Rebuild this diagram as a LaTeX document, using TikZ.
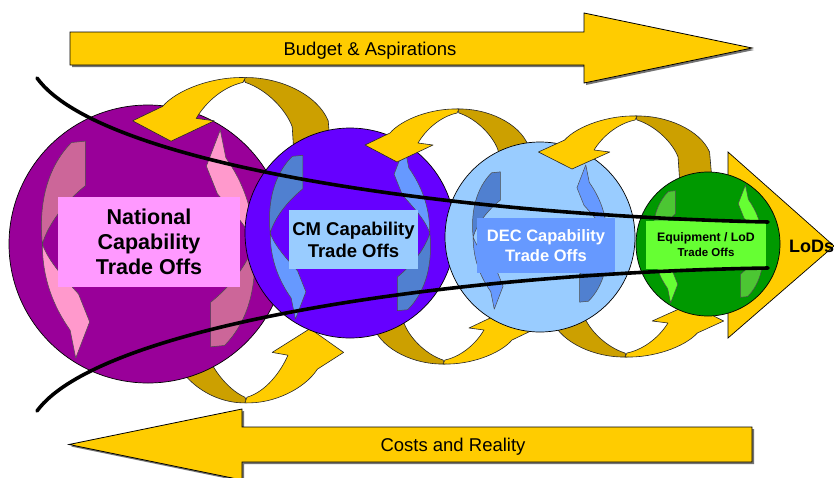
\documentclass[tikz,border=0pt]{standalone}
\usepackage{fontspec}
\setmainfont{Liberation Sans}

\definecolor{goldface}{HTML}{FFCC00}
\definecolor{goldback}{HTML}{CCA000}
\definecolor{natfill}{HTML}{990099}
\definecolor{natdark}{HTML}{CC6699}
\definecolor{natlight}{HTML}{FF99CC}
\definecolor{natbox}{HTML}{FF99FF}
\definecolor{cmfill}{HTML}{6600FF}
\definecolor{bluedark}{HTML}{5080D0}
\definecolor{bluelight}{HTML}{6699FF}
\definecolor{paleblue}{HTML}{99CCFF}
\definecolor{eqfill}{HTML}{009900}
\definecolor{eqdark}{HTML}{4CC633}
\definecolor{eqlight}{HTML}{66FF33}

% one twisted ribbon loop, cusp at the origin (y grows downwards)
\newcommand\ribbonBack{%
  \path[ribbonback] (0,-2) .. controls (30,-3) and (62,12) .. (71,34)
    -- (74,70) -- (43,70) -- (41,39)
    .. controls (36,25) and (20,8) .. (2,2) -- cycle;}
\newcommand\ribbonFront{%
  \path[ribbonfront] (2,-2) .. controls (-25,-3) and (-55,8) .. (-67,22)
    -- (-92,34) -- (-60,51) -- (-24,34) -- (-39,32)
    .. controls (-32,20) and (-18,6) .. (0,2) -- cycle;}

% one recycling arrow inside a ball, in units of the ball radius
\newcommand\swirlside[2]{%
  \path[swirl, fill=#1] (-0.55,-0.73) -- (-0.45,-0.74) -- (-0.45,-0.42)
    .. controls (-0.60,-0.30) and (-0.72,-0.14) .. (-0.76,0)
    .. controls (-0.79,-0.30) and (-0.72,-0.56) .. (-0.55,-0.73) -- cycle;
  \path[swirl, fill=#2] (-0.76,0)
    .. controls (-0.76,0.25) and (-0.68,0.45) .. (-0.56,0.62)
    -- (-0.52,0.82) -- (-0.42,0.56) -- (-0.50,0.36)
    .. controls (-0.60,0.25) and (-0.72,0.12) .. (-0.76,0) -- cycle;}
\newcommand\swirlset[2]{%
  \swirlside{#1}{#2}%
  \begin{scope}[rotate=180]\swirlside{#1}{#2}\end{scope}}

\begin{document}
\begin{tikzpicture}[x=1pt, y=-1pt,
  bigarrow/.style={fill=goldface, draw=black, line width=0.8pt, line join=miter},
  bigshade/.style={fill=black!55},
  ribbonfront/.style={fill=goldface, draw=black!85, line width=0.6pt, line join=round},
  ribbonback/.style={fill=goldback, draw=black!85, line width=0.6pt, line join=round},
  ball/.style={circle, draw=black, line width=0.7pt, inner sep=0pt},
  swirl/.style={draw=black!70, line width=0.5pt, line join=round},
  tradebox/.style={inner sep=0pt, align=center},
  thread/.style={draw=black, line width=3.6pt, line cap=round, line join=round},
  banner/.style={font=\fontsize{18.5}{22}\selectfont, anchor=base, inner sep=0pt}
]
\fill[white] (0,0) rectangle (834,477);
\useasboundingbox (0,0) rectangle (834,477);

% budget arrow (top) and cost arrow (bottom)
\path[bigshade, shift={(2,2)}] (70,32) -- (584,32) -- (584,13) -- (752,48)
  -- (584,83) -- (584,65) -- (70,65) -- cycle;
\path[bigarrow] (70,32) -- (584,32) -- (584,13) -- (752,48)
  -- (584,83) -- (584,65) -- (70,65) -- cycle;
\node[banner] (budget) at (370,55.5) {Budget \& Aspirations};

\path[bigshade, shift={(2,2)}] (752,427) -- (242,427) -- (242,409) -- (69,444.5)
  -- (242,480) -- (242,462) -- (752,462) -- cycle;
\path[bigarrow] (752,427) -- (242,427) -- (242,409) -- (69,444.5)
  -- (242,480) -- (242,462) -- (752,462) -- cycle;
\node[banner] (costs) at (453,451) {Costs and Reality};

% far halves of the upper loops
\begin{scope}[shift={(243,80)}, scale=1.2]\ribbonBack\end{scope}
\begin{scope}[shift={(457,111)}]\ribbonBack\end{scope}
\begin{scope}[shift={(635,118)}, xscale=1.05]\ribbonBack\end{scope}

% lower loops, turned upside down
\begin{scope}[shift={(247,400)}, xscale=-1.05, yscale=-1.4]\ribbonBack\ribbonFront\end{scope}
\begin{scope}[shift={(445,362)}, xscale=-1, yscale=-1]\ribbonBack\ribbonFront\end{scope}
\begin{scope}[shift={(627,355)}, xscale=-1.05, yscale=-1]\ribbonBack\ribbonFront\end{scope}

% outcome arrow
\path[bigarrow, line width=0.7pt] (728,152) -- (834,246) -- (728,338) -- cycle;

% national level
\node[ball, fill=natfill, minimum size=278pt] (natball) at (148,244) {};
\begin{scope}[shift={(natball.center)}, scale=139]\swirlset{natdark}{natlight}\end{scope}
\node[tradebox, fill=natbox, minimum width=182pt, minimum height=90pt,
  font=\fontsize{21.5}{25}\selectfont\bfseries] (nattext) at (149,242)
  {National\\Capability\\Trade Offs};

% CM level
\node[ball, fill=cmfill, minimum size=210pt] (cmball) at (350,233) {};
\begin{scope}[shift={(cmball.center)}, scale=105]\swirlset{bluedark}{bluelight}\end{scope}
\node[tradebox, fill=paleblue, minimum width=129pt, minimum height=59pt,
  font=\fontsize{18.5}{22}\selectfont\bfseries] (cmtext) at (353.5,239.5)
  {CM Capability\\Trade Offs};

% DEC level
\node[ball, fill=paleblue, minimum size=190pt] (decball) at (540,237) {};
\begin{scope}[shift={(decball.center)}, scale=88]\swirlset{bluedark}{bluelight}\end{scope}
\node[tradebox, fill=bluelight, text=white, minimum width=138pt, minimum height=55pt,
  font=\fontsize{16.5}{20}\selectfont\bfseries] (dectext) at (546,245.5)
  {DEC Capability\\Trade Offs};

% equipment level
\node[ball, fill=eqfill, minimum size=144pt] (eqball) at (708,244) {};
\begin{scope}[shift={(eqball.center)}, scale=72]\swirlset{eqdark}{eqlight}\end{scope}
\node[tradebox, fill=eqlight, minimum width=120pt, minimum height=48pt,
  font=\fontsize{12.3}{15}\selectfont\bfseries] (eqtext) at (706,245)
  {Equipment / LoD\\{\fontsize{11.5}{13}\selectfont Trade Offs}};

% near halves of the upper loops
\begin{scope}[shift={(243,80)}, scale=1.2]\ribbonFront\end{scope}
\begin{scope}[shift={(457,111)}]\ribbonFront\end{scope}
\begin{scope}[shift={(635,118)}, xscale=1.05]\ribbonFront\end{scope}

% funnel lines
\draw[thread] (37,78) .. controls (100,165) and (450,215) .. (768,222);
\draw[thread] (37,411) .. controls (100,325) and (450,273) .. (768,268);

\node[anchor=west, inner sep=0pt, font=\fontsize{18}{20}\selectfont\bfseries]
  (lods) at (789,246) {LoDs};
\end{tikzpicture}
\end{document}
